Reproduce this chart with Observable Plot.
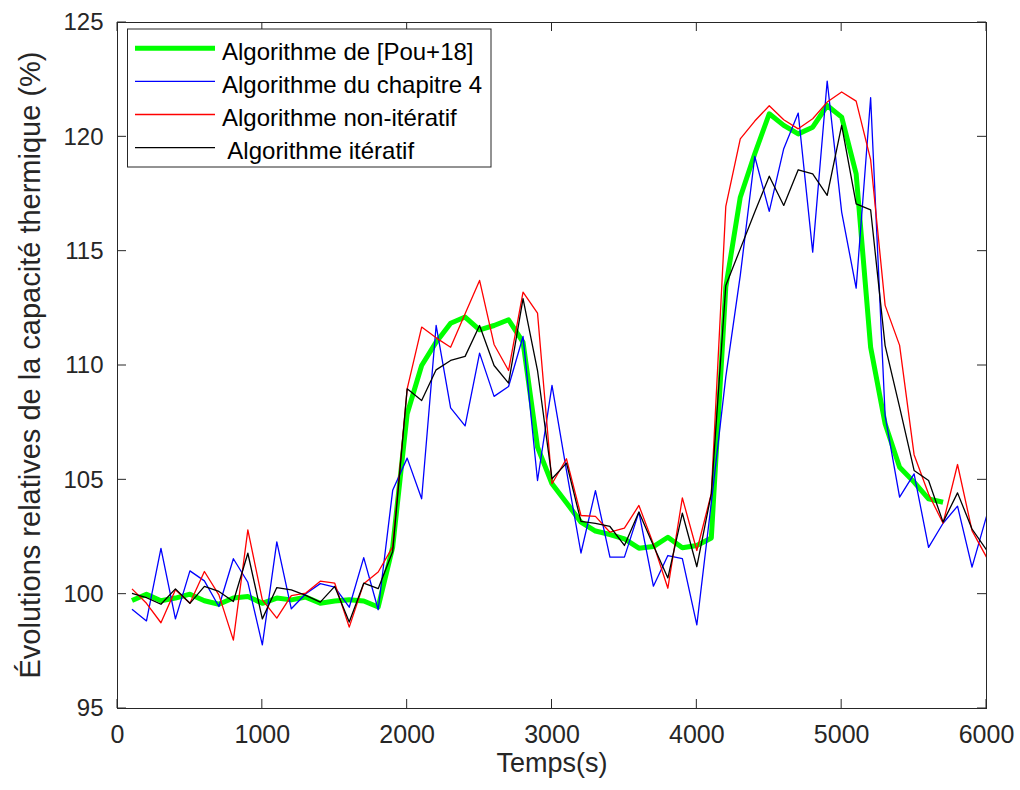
<!DOCTYPE html>
<html><head><meta charset="utf-8">
<script src="https://cdn.jsdelivr.net/npm/d3@7"></script>
<script src="https://cdn.jsdelivr.net/npm/@observablehq/plot@0.6"></script>
<style>
html,body{margin:0;padding:0;background:#fff;}
#chart{position:relative;width:1020px;height:790px;}
</style></head><body><div id="chart"></div>
<script>
const time = [100,200,300,400,500,600,700,800,900,1000,
  1100,1200,1300,1400,1500,1600,1700,1800,1900,2000,
  2100,2200,2300,2400,2500,2600,2700,2800,2900,3000,
  3100,3200,3300,3400,3500,3600,3700,3800,3900,4000,
  4100,4200,4300,4400,4500,4600,4700,4800,4900,5000,
  5100,5200,5300,5400,5500,5600,5700,5800,5900,6000];

const pou18 = [99.72,100.0,99.71,99.83,100.0,99.71,99.56,99.83,99.9,99.6,
  99.83,99.75,99.87,99.6,99.7,99.76,99.7,99.44,102.06,107.89,
  110.0,111.02,111.85,112.12,111.56,111.75,112.0,111.02,106.43,104.83,
  104.0,103.15,102.76,102.61,102.42,102.01,102.08,102.49,102.03,102.13,
  102.46,113.43,117.36,119.26,121.01,120.5,120.13,120.42,121.37,120.86,
  118.38,110.8,107.45,105.55,104.9,104.17,104.02];

const chapitre4 = [99.34,98.83,102.0,98.92,101.02,100.58,99.46,101.55,100.52,97.78,
  102.29,99.36,100.02,100.46,100.31,99.43,101.6,99.32,104.54,105.95,
  104.17,111.75,108.15,107.36,110.54,108.65,109.08,111.27,104.97,109.13,
  105.4,101.8,104.53,101.62,101.62,103.59,100.35,101.69,101.55,98.66,
  104.0,109.5,113.94,119.14,116.74,119.48,121.04,114.96,122.44,116.71,
  113.38,121.71,107.81,104.24,105.26,102.05,103.1,103.85,101.18,103.4];

const nonIteratif = [100.23,99.6,98.75,100.19,99.6,100.99,99.97,97.99,102.81,99.75,
  98.95,99.94,100.05,100.57,100.48,98.56,100.46,100.97,102.07,108.98,
  111.68,111.21,110.8,112.26,113.72,110.92,109.78,113.21,112.29,104.83,
  105.92,103.44,103.4,102.71,102.89,103.88,102.2,100.26,104.21,101.91,
  104.4,116.96,119.91,120.69,121.36,120.75,120.35,120.79,121.52,121.96,
  121.56,119.0,112.63,110.88,106.1,104.38,103.1,105.67,102.78,101.62];

const iteratif = [100.03,99.85,99.56,100.23,99.6,100.34,100.12,99.68,101.79,98.92,
  100.29,100.19,99.95,99.65,100.34,98.78,100.48,100.24,101.87,108.98,
  108.47,109.81,110.22,110.4,111.75,110.0,109.23,112.92,109.78,105.05,
  105.73,103.18,103.1,102.96,102.13,103.59,102.13,100.71,103.54,101.2,
  104.4,113.5,115.1,116.71,118.28,117.0,118.56,118.38,117.44,120.5,
  117.07,116.81,110.87,108.18,105.41,104.97,103.15,104.43,102.85,101.94];

const seriesNames = ["Algorithme de [Pou+18]", "Algorithme du chapitre 4", "Algorithme non-itératif", " Algorithme itératif"];
const seriesColors = ["#00ff00", "#0000ff", "#ff0000", "#000000"];
const xTicks = [0,1000,2000,3000,4000,5000,6000];
const yTicks = [95,100,105,110,115,120,125];
const xTitle = "Temps(s)";
const yTitle = "Évolutions relatives de la capacité thermique (%)";

const seriesValues = [pou18, chapitre4, nonIteratif, iteratif];
const rows = [];
seriesValues.forEach((vals, i) => vals.forEach((v, j) => rows.push({t: time[j], v, s: i})));

const font = "'Liberation Sans', Arial, Helvetica, sans-serif";
const ink = "#262626";

const lineMarks = seriesValues.map((vals, i) =>
  Plot.line(rows.filter(r => r.s === i), {
    x: "t", y: "v", stroke: seriesColors[i],
    strokeWidth: i === 0 ? 5 : 1.3, strokeLinejoin: "round", strokeLinecap: "butt"
  })
);

const chart = Plot.plot({
  width: 1020, height: 790,
  marginLeft: 117, marginRight: 34, marginTop: 22, marginBottom: 82,
  style: {fontFamily: font, background: "#fff", color: ink},
  x: {domain: [0, 6000]},
  y: {domain: [95, 125]},
  marks: [
    ...lineMarks,
    Plot.frame({stroke: ink, strokeWidth: 1}),
    Plot.axisX(xTicks, {tickSize: 0, tickPadding: 17, fontSize: 25, label: null, fill: ink, tickFormat: d => String(d)}),
    Plot.axisY(yTicks, {tickSize: 0, tickPadding: 14, fontSize: 24, label: null, fill: ink, tickFormat: d => String(d)}),
    Plot.text([xTitle], {frameAnchor: "bottom", dy: 63, fontSize: 27, fill: ink})
  ]
});

document.getElementById("chart").appendChild(chart);

const sx = chart.scale("x"), sy = chart.scale("y");
const svg = d3.select(chart);
const yb = sy.apply(95), yt = sy.apply(125), xl = sx.apply(0), xr = sx.apply(6000);

// y-axis title
svg.append("text")
  .attr("transform", `translate(${xl - 87},${(yb + yt) / 2}) rotate(-90)`)
  .attr("text-anchor", "middle").attr("dominant-baseline", "central")
  .attr("font-family", font).attr("font-size", 29).attr("fill", ink)
  .text(yTitle);

// inward ticks (MATLAB style) using the plot's own scales
const tk = svg.append("g").attr("stroke", ink).attr("stroke-width", 1);
const tl = 9;
xTicks.forEach(v => {
  const px = sx.apply(v);
  tk.append("line").attr("x1", px).attr("x2", px).attr("y1", yb).attr("y2", yb - tl);
  tk.append("line").attr("x1", px).attr("x2", px).attr("y1", yt).attr("y2", yt + tl);
});
yTicks.forEach(v => {
  const py = sy.apply(v);
  tk.append("line").attr("y1", py).attr("y2", py).attr("x1", xl).attr("x2", xl + tl);
  tk.append("line").attr("y1", py).attr("y2", py).attr("x1", xr).attr("x2", xr - tl);
});

// legend box
const lg = svg.append("g").attr("font-family", font).attr("font-size", 24).attr("text-anchor", "start");
lg.append("rect").attr("x", 127.5).attr("y", 29).attr("width", 363.5).attr("height", 138)
  .attr("fill", "#fff").attr("stroke", ink).attr("stroke-width", 1);
seriesNames.forEach((name, i) => {
  const ly = 48.3 + 33.1 * i;
  lg.append("line").attr("x1", 135).attr("x2", 215).attr("y1", ly).attr("y2", ly)
    .attr("stroke", seriesColors[i]).attr("stroke-width", i === 0 ? 5 : 1.3);
  lg.append("text").attr("x", 222).attr("y", 60 + 33.1 * i).attr("fill", "#000")
    .attr("text-anchor", "start").style("white-space", "pre").text(name);
});
</script>
</body></html>
